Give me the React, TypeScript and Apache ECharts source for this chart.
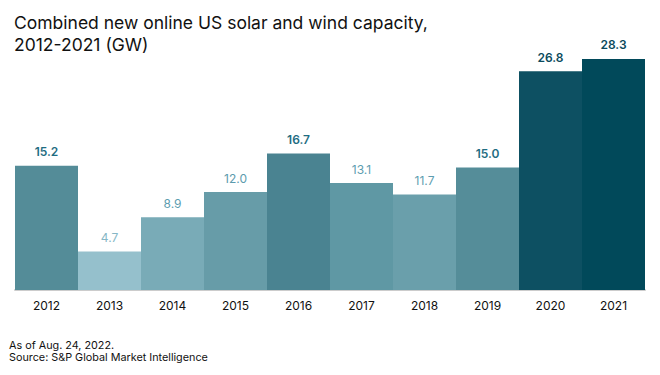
import React, { useEffect, useRef } from "react";
import * as echarts from "echarts";

const categories = ["2012", "2013", "2014", "2015", "2016", "2017", "2018", "2019", "2020", "2021"];
const capacityGW = [15.2, 4.7, 8.9, 12.0, 16.7, 13.1, 11.7, 15.0, 26.8, 28.3];
const barColors = ["#548c98", "#95c0cc", "#79abb7", "#679ca8", "#4a8391", "#5f98a4", "#6a9fab", "#558d99", "#0d5062", "#01495a"];
const labelColors = ["#1f6d82", "#86b7c6", "#5d9db0", "#5c9bad", "#1f6d82", "#5d9db0", "#5d9db0", "#1f6d82", "#0b4a5c", "#0b4a5c"];
const labelBold = [true, false, false, false, true, false, false, true, true, true];

const FONT = "Inter, 'Noto Sans', sans-serif";

export default function App() {
  const ref = useRef<HTMLDivElement>(null);
  useEffect(() => {
    if (!ref.current) return;
    const chart = echarts.init(ref.current, null, { renderer: "svg" });
    chart.setOption({
      animation: false,
      backgroundColor: "#ffffff",
      title: {
        text: "Combined new online US solar and wind capacity,\n2012-2021 (GW)",
        left: 9,
        top: 6,
        textStyle: { fontFamily: FONT, fontSize: 17.5, fontWeight: "normal", color: "#111111", lineHeight: 22 },
      },
      graphic: [
        {
          type: "text",
          left: 9,
          top: 339,
          style: {
            text: "As of Aug. 24, 2022.\nSource: S&P Global Market Intelligence",
            fontFamily: FONT,
            fontSize: 10.8,
            lineHeight: 12.5,
            fill: "#111111",
          },
        },
      ],
      grid: { left: 15, right: 15, top: 45, bottom: 85, containLabel: false },
      xAxis: {
        type: "category",
        data: categories,
        axisLine: { show: true, lineStyle: { color: "#cccccc", width: 2 } },
        axisTick: { show: false },
        axisLabel: { fontFamily: FONT, fontSize: 12, color: "#111111", margin: 9 },
      },
      yAxis: {
        type: "value",
        min: 0,
        max: 30,
        show: false,
        splitLine: { show: false },
      },
      series: [
        {
          type: "bar",
          barCategoryGap: "0%",
          data: capacityGW.map((v, i) => ({
            value: v,
            itemStyle: { color: barColors[i] },
            label: {
              color: labelColors[i],
              fontWeight: labelBold[i] ? 600 : "normal",
            },
          })),
          label: {
            show: true,
            position: "top",
            distance: 8,
            fontFamily: FONT,
            fontSize: 12,
            formatter: (p: any) => Number(p.value).toFixed(1),
          },
        },
      ],
    });
    return () => chart.dispose();
  }, []);
  return <div ref={ref} style={{ width: 660, height: 375, position: "absolute", left: 0, top: 0 }} />;
}
